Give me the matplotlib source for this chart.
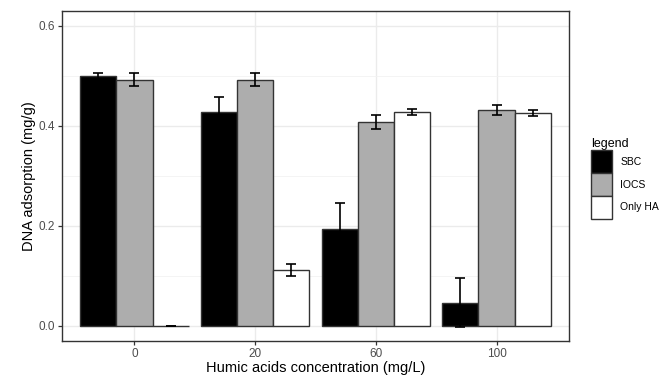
import numpy as np
import matplotlib
matplotlib.use("Agg")
import matplotlib.pyplot as plt
from matplotlib.patches import Patch

plt.rcParams['font.family'] = ['Liberation Sans', 'DejaVu Sans']

# data
concentrations = ['0', '20', '60', '100']
series = ['SBC', 'IOCS', 'Only HA']
sbc = [0.500, 0.429, 0.195, 0.047]
sbc_err = [0.007, 0.029, 0.052, 0.049]
iocs = [0.493, 0.493, 0.408, 0.432]
iocs_err = [0.013, 0.013, 0.014, 0.010]
only_ha = [0.000, 0.112, 0.429, 0.426]
only_ha_err = [0.000, 0.012, 0.006, 0.006]

values = [sbc, iocs, only_ha]
errors = [sbc_err, iocs_err, only_ha_err]
fills = ['#000000', '#ADADAD', '#FFFFFF']

fig = plt.figure(figsize=(6.64, 3.75), dpi=100)
ax = fig.add_axes([62/664, 34/375, (569-62)/664, (341-11)/375])

x = np.arange(1, len(concentrations)+1)
w = 0.3
for i in range(len(series)):
    pos = x + (i-1)*w
    ax.bar(pos, values[i], width=w, color=fills[i], edgecolor='#333333',
           linewidth=1.0, zorder=3)
    ax.errorbar(pos, values[i], yerr=errors[i], fmt='none', ecolor='#000000',
                elinewidth=1.2, capsize=3.5, capthick=1.2, zorder=4)

ax.set_xlim(0.4, 4.6)
ax.set_ylim(-0.03, 0.63)
ax.set_xticks(x)
ax.set_xticklabels(concentrations)
ax.set_yticks([0.0, 0.2, 0.4, 0.6])
ax.set_yticklabels(['0.0', '0.2', '0.4', '0.6'])
ax.set_yticks([0.1, 0.3, 0.5], minor=True)
ax.grid(which='major', color='#EBEBEB', linewidth=1.0, zorder=0)
ax.grid(which='minor', axis='y', color='#F2F2F2', linewidth=0.6, zorder=0)
ax.tick_params(axis='both', which='major', length=3, width=0.9, color='#333333',
               labelcolor='#4D4D4D', labelsize=8.5, pad=2)
ax.tick_params(axis='both', which='minor', length=0)
for s in ax.spines.values():
    s.set_color('#333333')
    s.set_linewidth(1.0)

ax.set_xlabel('Humic acids concentration (mg/L)', fontsize=10.5, labelpad=1)
ax.set_ylabel('DNA adsorption (mg/g)', fontsize=10.5, labelpad=2)

handles = [Patch(facecolor=fills[i], edgecolor='#333333', linewidth=1.0)
           for i in range(len(series))]
leg = fig.legend(handles, series, title='legend', loc='upper left',
                 bbox_to_anchor=(584/664, 1-131/375), frameon=False,
                 fontsize=7.5, title_fontsize=9, handlelength=2.0,
                 handleheight=3.0, labelspacing=0.0, handletextpad=0.8,
                 borderpad=0.2)
leg._legend_box.align = 'left'

fig.savefig('out.png', dpi=100)
